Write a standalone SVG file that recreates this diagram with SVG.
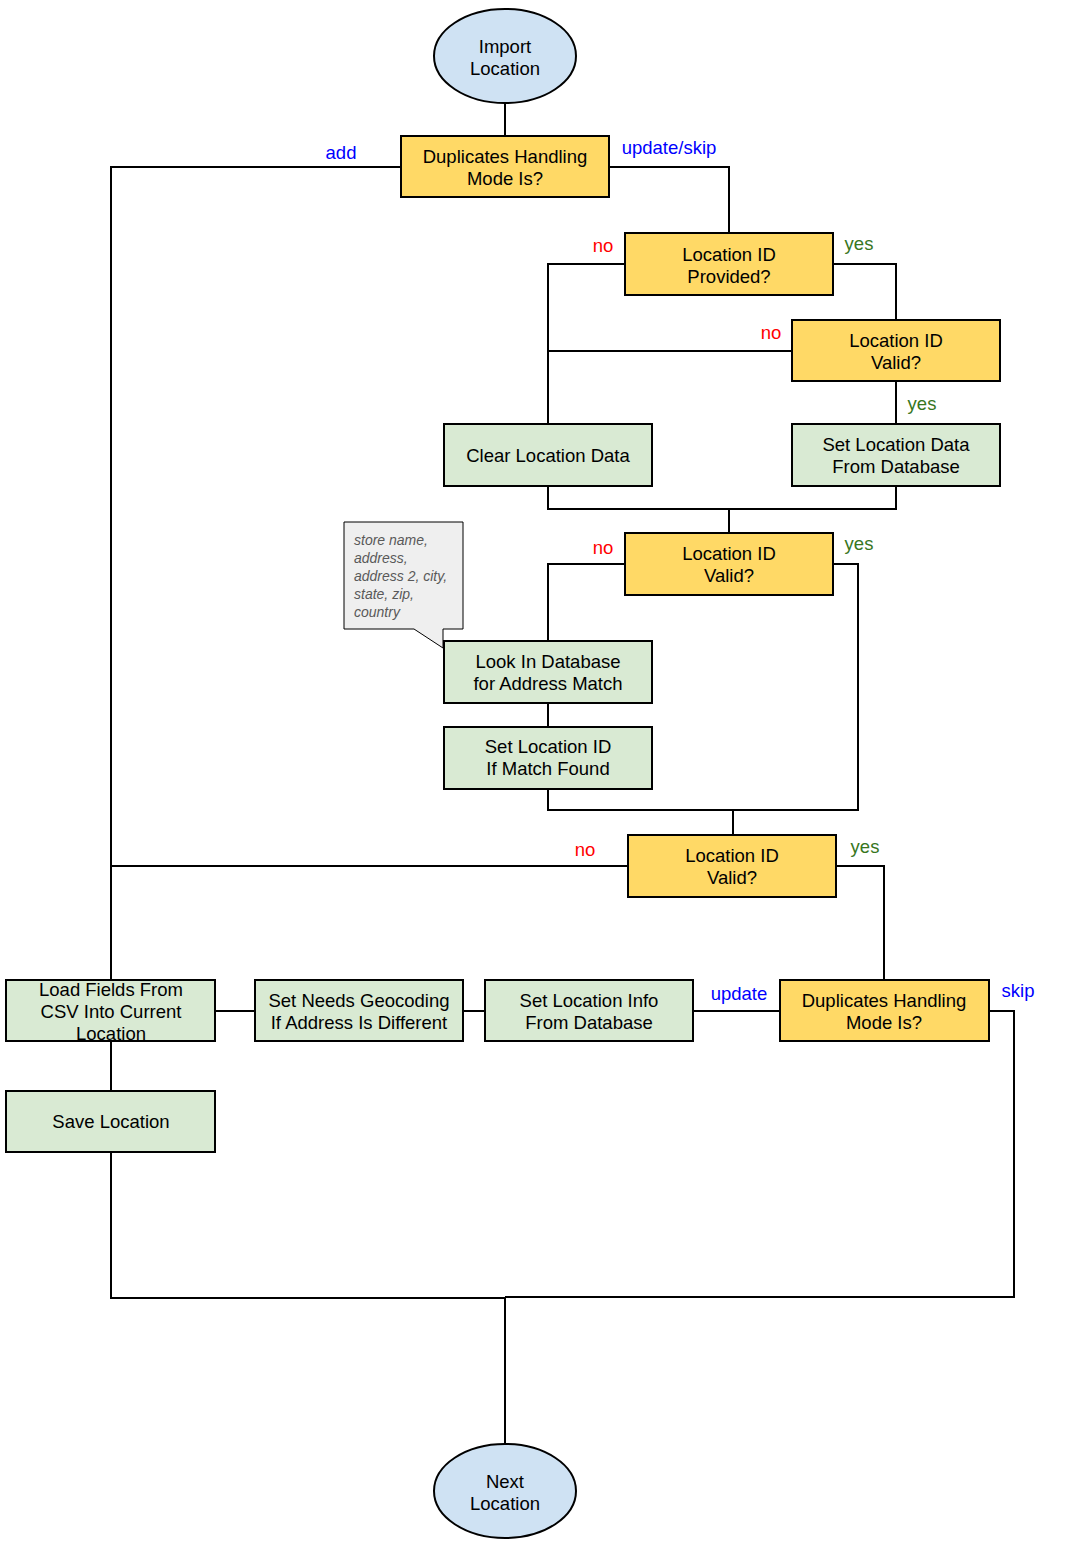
<svg xmlns="http://www.w3.org/2000/svg" width="1081" height="1541" viewBox="0 0 1081 1541">
<style>
  .y { fill: #ffd966; stroke: #000; stroke-width: 2; }
  .g { fill: #d9ead3; stroke: #000; stroke-width: 2; }
  .b { fill: #cfe2f3; stroke: #000; stroke-width: 2; }
  .t { font-family: "Liberation Sans", Arial, sans-serif; font-size: 18.5px; fill: #000; text-anchor: middle; }
  .lb { font-family: "Liberation Sans", Arial, sans-serif; font-size: 18.5px; fill: #0000ff; text-anchor: middle; }
  .lr { font-family: "Liberation Sans", Arial, sans-serif; font-size: 18.5px; fill: #ff0000; text-anchor: middle; }
  .lg { font-family: "Liberation Sans", Arial, sans-serif; font-size: 18.5px; fill: #38761d; text-anchor: middle; }
  .c { fill: none; stroke: #000; stroke-width: 2; }
  .note { font-family: "Liberation Sans", Arial, sans-serif; font-size: 14px; font-style: italic; fill: #595959; }
</style>
<rect width="1081" height="1541" fill="#fff"/>
<g id="connectors">
  <path class="c" d="M505,103 V136"/>
  <path class="c" d="M401,167 H111 V980"/>
  <path class="c" d="M609,167 H729 V233"/>
  <path class="c" d="M625,264 H548 V424"/>
  <path class="c" d="M833,264 H896 V320"/>
  <path class="c" d="M792,351 H548"/>
  <path class="c" d="M896,381 V424"/>
  <path class="c" d="M548,486 V509 H896 V486"/>
  <path class="c" d="M729,509 V533"/>
  <path class="c" d="M625,564 H548 V641"/>
  <path class="c" d="M833,564 H858 V810 H548 V789"/>
  <path class="c" d="M548,703 V727"/>
  <path class="c" d="M733,810 V835"/>
  <path class="c" d="M628,866 H111"/>
  <path class="c" d="M836,866 H884 V980"/>
  <path class="c" d="M215,1011 H255"/>
  <path class="c" d="M463,1011 H485"/>
  <path class="c" d="M693,1011 H780"/>
  <path class="c" d="M989,1011 H1014 V1297 H505"/>
  <path class="c" d="M111,1041 V1091"/>
  <path class="c" d="M111,1152 V1298 H505 V1444"/>
  <text class="lb" x="341" y="159">add</text>
  <text class="lb" x="669" y="154">update/skip</text>
  <text class="lr" x="603" y="252">no</text>
  <text class="lg" x="859" y="250">yes</text>
  <text class="lr" x="771" y="339">no</text>
  <text class="lg" x="922" y="410">yes</text>
  <text class="lr" x="603" y="554">no</text>
  <text class="lg" x="859" y="550">yes</text>
  <text class="lr" x="585" y="856">no</text>
  <text class="lg" x="865" y="853">yes</text>
  <text class="lb" x="739" y="1000">update</text>
  <text class="lb" x="1018" y="997">skip</text>
</g>
<g id="import-location">
  <ellipse class="b" cx="505" cy="56" rx="71" ry="47"/>
  <text class="t" x="505" y="53">Import</text>
  <text class="t" x="505" y="75">Location</text>
</g>
<g id="dup-mode-1">
  <rect class="y" x="401" y="136" width="208" height="61"/>
  <text class="t" x="505" y="163">Duplicates Handling</text>
  <text class="t" x="505" y="185">Mode Is?</text>
</g>
<g id="id-provided">
  <rect class="y" x="625" y="233" width="208" height="62"/>
  <text class="t" x="729" y="261">Location ID</text>
  <text class="t" x="729" y="283">Provided?</text>
</g>
<g id="id-valid-1">
  <rect class="y" x="792" y="320" width="208" height="61"/>
  <text class="t" x="896" y="347">Location ID</text>
  <text class="t" x="896" y="369">Valid?</text>
</g>
<g id="clear-data">
  <rect class="g" x="444" y="424" width="208" height="62"/>
  <text class="t" x="548" y="462">Clear Location Data</text>
</g>
<g id="set-data-db">
  <rect class="g" x="792" y="424" width="208" height="62"/>
  <text class="t" x="896" y="451">Set Location Data</text>
  <text class="t" x="896" y="473">From Database</text>
</g>
<g id="id-valid-2">
  <rect class="y" x="625" y="533" width="208" height="62"/>
  <text class="t" x="729" y="560">Location ID</text>
  <text class="t" x="729" y="582">Valid?</text>
</g>
<g id="note">
  <path d="M344,522 H463 V629 H443 V648 L414,629 H344 Z" fill="#efefef" stroke="#000" stroke-width="1"/>
  <text class="note" x="354" y="545">store name,</text>
  <text class="note" x="354" y="563">address,</text>
  <text class="note" x="354" y="581">address 2, city,</text>
  <text class="note" x="354" y="599">state, zip,</text>
  <text class="note" x="354" y="617">country</text>
</g>
<g id="look-db">
  <rect class="g" x="444" y="641" width="208" height="62"/>
  <text class="t" x="548" y="668">Look In Database</text>
  <text class="t" x="548" y="690">for Address Match</text>
</g>
<g id="set-id-match">
  <rect class="g" x="444" y="727" width="208" height="62"/>
  <text class="t" x="548" y="753">Set Location ID</text>
  <text class="t" x="548" y="775">If Match Found</text>
</g>
<g id="id-valid-3">
  <rect class="y" x="628" y="835" width="208" height="62"/>
  <text class="t" x="732" y="862">Location ID</text>
  <text class="t" x="732" y="884">Valid?</text>
</g>
<g id="load-fields">
  <rect class="g" x="6" y="980" width="209" height="61"/>
  <text class="t" x="111" y="996">Load Fields From</text>
  <text class="t" x="111" y="1018">CSV Into Current</text>
  <text class="t" x="111" y="1040">Location</text>
</g>
<g id="needs-geocoding">
  <rect class="g" x="255" y="980" width="208" height="61"/>
  <text class="t" x="359" y="1007">Set Needs Geocoding</text>
  <text class="t" x="359" y="1029">If Address Is Different</text>
</g>
<g id="set-info-db">
  <rect class="g" x="485" y="980" width="208" height="61"/>
  <text class="t" x="589" y="1007">Set Location Info</text>
  <text class="t" x="589" y="1029">From Database</text>
</g>
<g id="dup-mode-2">
  <rect class="y" x="780" y="980" width="209" height="61"/>
  <text class="t" x="884" y="1007">Duplicates Handling</text>
  <text class="t" x="884" y="1029">Mode Is?</text>
</g>
<g id="save-location">
  <rect class="g" x="6" y="1091" width="209" height="61"/>
  <text class="t" x="111" y="1128">Save Location</text>
</g>
<g id="next-location">
  <ellipse class="b" cx="505" cy="1491" rx="71" ry="47"/>
  <text class="t" x="505" y="1488">Next</text>
  <text class="t" x="505" y="1510">Location</text>
</g>
</svg>
